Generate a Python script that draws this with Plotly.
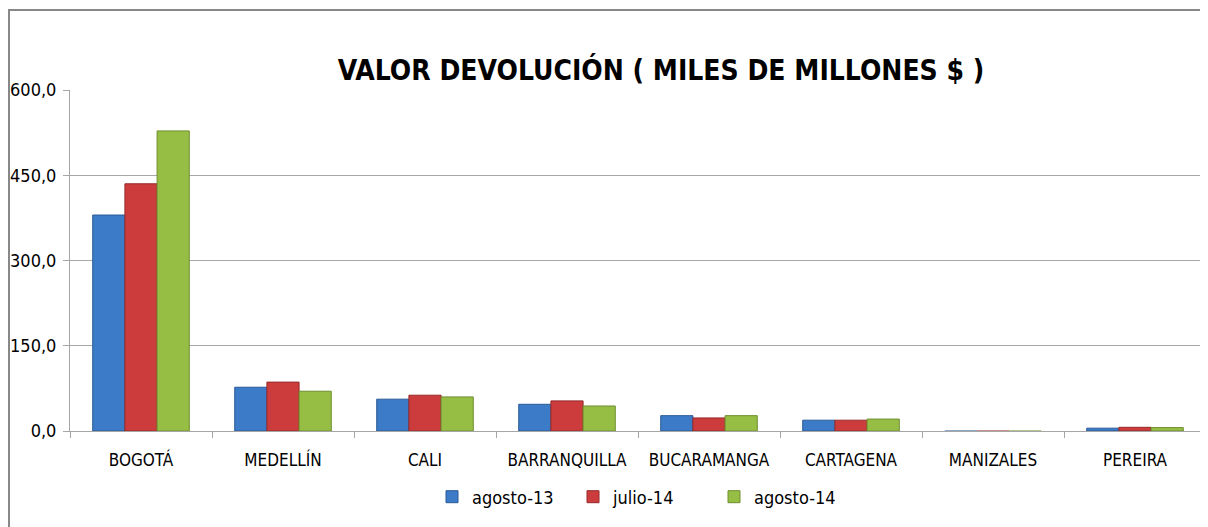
import plotly.graph_objects as go

categories = ["BOGOTÁ", "MEDELLÍN", "CALI", "BARRANQUILLA", "BUCARAMANGA", "CARTAGENA", "MANIZALES", "PEREIRA"]
series_names = ["agosto-13", "julio-14", "agosto-14"]
agosto_13 = [380, 77, 56, 47, 27, 19, -0.8, 5]
julio_14 = [435, 86, 63, 53, 23, 19, -0.8, 6.5]
agosto_14 = [528, 70, 60, 44, 27, 21, -0.8, 6]
y_ticks = [0, 150, 300, 450, 600]

colors = ["#3c7bc8", "#cc3c3c", "#96be44"]
lines = ["#2a5a96", "#962a2a", "#6e8e2e"]

FONT = "Liberation Sans Narrow, DejaVu Sans Condensed, Arial Narrow, sans-serif"
TFONT = "DejaVu Sans Condensed, Liberation Sans Narrow, sans-serif"

# page body adds an 8px offset; layout values below compensate for it
L, T, PW, PH = 62, 82, 1136, 341

fig = go.Figure()
for name, vals, c, lc in zip(series_names, [agosto_13, julio_14, agosto_14], colors, lines):
    fig.add_trace(go.Bar(x=categories, y=vals, name=name,
                         marker=dict(color=c, line=dict(color=lc, width=1))))

fig.update_layout(
    width=1208, height=527,
    margin=dict(l=L, r=1208 - L - PW, t=T, b=527 - T - PH, autoexpand=False),
    paper_bgcolor="white", plot_bgcolor="white",
    separators=",.",
    barmode="group", bargap=0.32, bargroupgap=0,
    font=dict(family=FONT, size=16, color="#000"),
    title=dict(text="VALOR DEVOLUCIÓN ( MILES DE MILLONES $ )",
               x=653 / 1208, xanchor="center", y=1 - 62 / 527, yanchor="middle",
               font=dict(family=TFONT, size=28, color="#000", weight="bold")),
    legend=dict(orientation="h", x=(424 - L) / PW, xanchor="left", y=-(489 - T - PH) / PH,
                yanchor="middle",
                font=dict(family=FONT, size=18), itemwidth=30, traceorder="normal",
                entrywidth=96, entrywidthmode="pixels"),
    showlegend=True,
)
fig.update_yaxes(range=[0, 600], tickvals=y_ticks, tickformat=".1f",
                 showgrid=True, gridcolor="#a6a6a6", gridwidth=1,
                 showline=True, linecolor="#a6a6a6", ticks="outside", ticklen=6,
                 tickcolor="#a6a6a6", zeroline=False, automargin=False,
                 ticklabelstandoff=3,
                 tickfont=dict(family=FONT, size=18))
fig.update_xaxes(showline=True, linecolor="#a6a6a6", ticks="outside", ticklen=6,
                 tickcolor="#a6a6a6", tickson="boundaries", automargin=False,
                 ticklabelstandoff=14,
                 tickfont=dict(family=FONT, size=17))

# chart border frame
fig.add_shape(type="rect", xref="paper", yref="paper",
              x0=(1 - L) / PW, x1=1 + 20 / PW, y0=-(527 - T - PH + 20) / PH, y1=1 + (T - 2) / PH,
              line=dict(color="#888888", width=2), layer="below")

fig.write_html("out.html")
